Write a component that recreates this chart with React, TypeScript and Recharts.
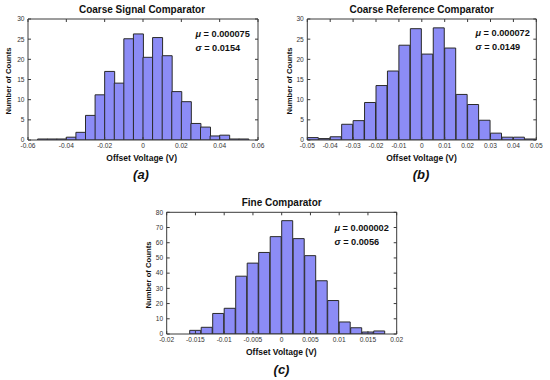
import React from 'react';
import { BarChart, Bar, XAxis, YAxis } from 'recharts';

// ---- data ----
const binsA = [-0.0525, -0.0475, -0.0425, -0.0375, -0.0325, -0.0275, -0.0225, -0.0175, -0.0125, -0.0075, -0.0025,
  0.0025, 0.0075, 0.0125, 0.0175, 0.0225, 0.0275, 0.0325, 0.0375, 0.0425, 0.0475, 0.0525];
const countsA = [0.25, 0.25, 0.25, 0.7, 1.9, 6.1, 11.2, 17.0, 14.1, 25.1, 26.3,
  20.5, 25.4, 20.9, 12.0, 9.5, 4.1, 3.2, 1.0, 1.2, 0.25, 0.25];
const xTicksA = [-0.06, -0.04, -0.02, 0, 0.02, 0.04, 0.06];
const yTicksA = [0, 5, 10, 15, 20, 25, 30];

const binsB = [-0.0475, -0.0425, -0.0375, -0.0325, -0.0275, -0.0225, -0.0175, -0.0125, -0.0075, -0.0025,
  0.0025, 0.0075, 0.0125, 0.0175, 0.0225, 0.0275, 0.0325, 0.0375, 0.0425, 0.0475];
const countsB = [0.6, 0.35, 0.8, 3.9, 4.8, 9.3, 13.5, 17.1, 23.5, 27.6,
  21.3, 27.8, 22.8, 11.3, 8.8, 4.9, 1.7, 0.7, 0.7, 0.25];
const xTicksB = [-0.05, -0.04, -0.03, -0.02, -0.01, 0, 0.01, 0.02, 0.03, 0.04, 0.05];
const yTicksB = [0, 5, 10, 15, 20, 25, 30];

const binsC = [-0.015, -0.013, -0.011, -0.009, -0.007, -0.005, -0.003, -0.001, 0.001, 0.003, 0.005,
  0.007, 0.009, 0.011, 0.013, 0.015, 0.017];
const countsC = [2.4, 4.4, 13.5, 16.9, 38.0, 46.6, 53.6, 64.0, 74.5, 62.7, 51.5,
  35.0, 22.0, 7.9, 4.1, 1.3, 2.0];
const xTicksC = [-0.02, -0.015, -0.01, -0.005, 0, 0.005, 0.01, 0.015, 0.02];
const yTicksC = [0, 10, 20, 30, 40, 50, 60, 70, 80];

const FONT = '"Liberation Sans", Arial, Helvetica, sans-serif';
const AXIS = '#3a3a3a';
const FILL = '#8c8cf6';
const EDGE = '#2a2a2a';

const fmt = (v: number) => {
  const s = parseFloat(Number(v).toFixed(4)).toString();
  return s === '-0' ? '0' : s;
};
const noLabel = () => '';

type HistProps = {
  bins: number[];
  counts: number[];
  xTicks: number[];
  yTicks: number[];
  left: number;
  top: number;
  width: number;
  height: number;
  margin: { top: number; right: number; bottom: number; left: number };
};

function Hist({ bins, counts, xTicks, yTicks, left, top, width, height, margin }: HistProps) {
  const data = bins.map((x, i) => ({ x, y: counts[i] }));
  const xDomain = [xTicks[0], xTicks[xTicks.length - 1]];
  const yDomain = [yTicks[0], yTicks[yTicks.length - 1]];
  const tickStyle = { fontSize: 6.6, fill: '#333', fontFamily: FONT };
  const m = { ...margin, top: margin.top - 1, right: margin.right - 1 };
  return (
    <div style={{ position: 'absolute', left, top, width, height }}>
      <BarChart width={width} height={height} data={data} margin={m} barCategoryGap={0} barGap={0}>
        <XAxis
          xAxisId="b"
          type="number"
          dataKey="x"
          domain={xDomain}
          ticks={xTicks}
          interval={0}
          allowDataOverflow
          tickSize={-3}
          tickMargin={6.7}
          tick={tickStyle}
          tickFormatter={fmt}
          stroke={AXIS}
          axisLine={{ stroke: AXIS }}
          tickLine={{ stroke: AXIS }}
          height={20}
        />
        <XAxis
          xAxisId="t"
          orientation="top"
          type="number"
          dataKey="x"
          domain={xDomain}
          ticks={xTicks}
          interval={0}
          allowDataOverflow
          tickSize={-3}
          tick={{ fontSize: 1, fill: 'none' }}
          tickFormatter={noLabel}
          stroke={AXIS}
          axisLine={{ stroke: AXIS }}
          tickLine={{ stroke: AXIS }}
          height={1}
        />
        <YAxis
          yAxisId="l"
          type="number"
          domain={yDomain}
          ticks={yTicks}
          interval={0}
          allowDataOverflow
          tickSize={-3}
          tickMargin={6.5}
          tick={tickStyle}
          tickFormatter={fmt}
          stroke={AXIS}
          axisLine={{ stroke: AXIS }}
          tickLine={{ stroke: AXIS }}
          width={20}
        />
        <YAxis
          yAxisId="r"
          orientation="right"
          type="number"
          domain={yDomain}
          ticks={yTicks}
          interval={0}
          allowDataOverflow
          tickSize={-3}
          tick={{ fontSize: 1, fill: 'none' }}
          tickFormatter={noLabel}
          stroke={AXIS}
          axisLine={{ stroke: AXIS }}
          tickLine={{ stroke: AXIS }}
          width={1}
        />
        <Bar
          xAxisId="b"
          yAxisId="l"
          dataKey="y"
          fill={FILL}
          stroke={EDGE}
          strokeWidth={1}
          isAnimationActive={false}
        />
        <Bar
          xAxisId="t"
          yAxisId="r"
          dataKey="y"
          fill="none"
          stroke="none"
          isAnimationActive={false}
        />
      </BarChart>
    </div>
  );
}

function Stats({ x, y, mu, sigma }: { x: number; y: number; mu: string; sigma: string }) {
  return (
    <g fontFamily={FONT} fontSize={9.2} fontWeight="bold" fill="#111">
      <text x={x} y={y}>
        <tspan fontStyle="italic">μ</tspan>
        <tspan>{' = ' + mu}</tspan>
      </text>
      <text x={x} y={y + 14}>
        <tspan fontStyle="italic">σ</tspan>
        <tspan>{' = ' + sigma}</tspan>
      </text>
    </g>
  );
}

export default function App() {
  return (
    <div style={{ position: 'absolute', left: 0, top: 0, width: 550, height: 380, background: '#fff', overflow: 'hidden' }}>
      <Hist bins={binsA} counts={countsA} xTicks={xTicksA} yTicks={yTicksA}
        left={0} top={0} width={275} height={190}
        margin={{ top: 19, right: 17, bottom: 30, left: 8 }} />
      <Hist bins={binsB} counts={countsB} xTicks={xTicksB} yTicks={yTicksB}
        left={275} top={0} width={275} height={190}
        margin={{ top: 19, right: 13.7, bottom: 30, left: 12.3 }} />
      <Hist bins={binsC} counts={countsC} xTicks={xTicksC} yTicks={yTicksC}
        left={130} top={185} width={290} height={195}
        margin={{ top: 27.3, right: 23.3, bottom: 26, left: 16.7 }} />
      <svg width={550} height={380} style={{ position: 'absolute', left: 0, top: 0, pointerEvents: 'none' }}>
        <g fontFamily={FONT} fill="#111" fontWeight="bold" textAnchor="middle">
          <text x={142} y={12.5} fontSize={10}>Coarse Signal Comparator</text>
          <text x={421.7} y={12.5} fontSize={10}>Coarse Reference Comparator</text>
          <text x={281.7} y={205.7} fontSize={10}>Fine Comparator</text>

          <text x={141.7} y={161} fontSize={8.5}>Offset Voltage (V)</text>
          <text x={421.5} y={161} fontSize={8.5}>Offset Voltage (V)</text>
          <text x={281.3} y={355} fontSize={8.5}>Offset Voltage (V)</text>

          <text transform="translate(11,81) rotate(-90)" fontSize={7.7}>Number of Counts</text>
          <text transform="translate(291.5,81) rotate(-90)" fontSize={7.7}>Number of Counts</text>
          <text transform="translate(150.5,275) rotate(-90)" fontSize={7.7}>Number of Counts</text>

          <text x={141} y={179} fontSize={13} fontStyle="italic">(a)</text>
          <text x={421} y={179} fontSize={13} fontStyle="italic">(b)</text>
          <text x={281.5} y={374} fontSize={13} fontStyle="italic">(c)</text>
        </g>
        <Stats x={195.5} y={36.5} mu="0.000075" sigma="0.0154" />
        <Stats x={475.5} y={36} mu="0.000072" sigma="0.0149" />
        <Stats x={334.5} y={230.5} mu="0.000002" sigma="0.0056" />
      </svg>
    </div>
  );
}
